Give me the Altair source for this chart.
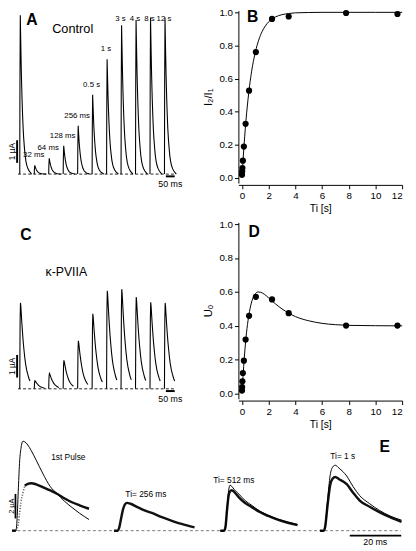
import altair as alt
import pandas as pd

FONT = "Liberation Sans"

# ---------------- data ----------------
# Panels A / C : interval before the 2nd pulse, peak currents (µA)
PULSE_LABELS = ["", "32 ms", "64 ms", "128 ms", "256 ms", "0.5 s", "1 s", "3 s", "4 s", "8 s", "12 s"]
A_PEAKS = [7.04, 0.39, 0.70, 1.26, 2.14, 3.52, 5.09, 6.60, 6.83, 6.94, 6.94]
C_PEAKS = [3.81, 0.36, 0.68, 1.26, 2.13, 3.33, 4.35, 4.42, 4.07, 3.84, 3.81]
# normalised waveform of one sweep (ms after onset)
A_T = [0, 1, 3, 5, 7, 9, 11, 13, 16, 19, 22, 26, 30, 35, 40, 46, 53, 60, 67]
A_SHAPE = [0, 0.55, 1.0, 0.87, 0.75, 0.64, 0.55, 0.47, 0.37, 0.29, 0.23, 0.17, 0.12,
           0.08, 0.055, 0.035, 0.02, 0.01, 0.0]
C_T = [0, 1, 2, 4, 6, 9, 12, 15, 19, 23, 28, 33, 39, 45, 52, 58]
C_SHAPE = [0, 0.45, 0.8, 1.0, 0.96, 0.86, 0.76, 0.67, 0.56, 0.47, 0.37, 0.29, 0.22,
           0.17, 0.12, 0.09]

# Panels B / D
TI = [0.0, 0.01, 0.03, 0.065, 0.14, 0.27, 0.53, 1.04, 2.25, 3.5, 7.8, 11.65]
I2_I1 = [0.02, 0.04, 0.06, 0.105, 0.19, 0.327, 0.527, 0.76, 0.96, 0.975, 0.996, 0.99]
U_O = [0.019, 0.039, 0.073, 0.122, 0.195, 0.319, 0.459, 0.571, 0.556, 0.475, 0.402, 0.402]
B_FIT_T = [0, 0.1, 0.2, 0.3, 0.4, 0.5, 0.65, 0.8, 1.0, 1.25, 1.5, 1.75, 2.0, 2.5, 3.0,
           3.5, 4.0, 5.0, 6.0, 8.0, 10.0, 12.0]
B_FIT_Y = [0.0, 0.133, 0.249, 0.349, 0.435, 0.51, 0.605, 0.681, 0.76, 0.832, 0.883,
           0.918, 0.943, 0.972, 0.986, 0.993, 0.997, 0.999, 1.0, 1.0, 1.0, 1.0]
D_FIT_T = [0, 0.1, 0.2, 0.3, 0.45, 0.6, 0.8, 1.0, 1.2, 1.4, 1.7, 2.0, 2.5, 3.0, 3.5,
           4.0, 5.0, 6.0, 7.0, 8.0, 10.0, 12.0]
D_FIT_Y = [0.0, 0.13, 0.24, 0.33, 0.43, 0.5, 0.56, 0.59, 0.60, 0.598, 0.585, 0.565,
           0.53, 0.5, 0.475, 0.455, 0.43, 0.415, 0.407, 0.403, 0.401, 0.40]

# Panel E : superimposed currents (ms after onset, µA)
E_LABELS = ["1st Pulse", "Ti= 256 ms", "Ti= 512 ms", "Ti= 1 s"]
E1_T = [-1.5, 0, 0.5, 1.0, 1.5, 2.0, 2.8, 3.5, 4.7, 6.0, 8.0, 10.5, 13.5, 16.3, 19.0,
        22.0, 25.0, 28.7]
E1_CTRL = [0, 0, 1.0, 3.5, 5.7, 6.7, 7.3, 7.25, 6.99, 6.55, 5.75, 4.7, 3.6, 2.99, 2.42,
           1.9, 1.42, 0.91]
E1_PVIIA = [0, 0, 0.2, 0.55, 1.5, 2.3, 3.1, 3.66, 3.82, 3.87, 3.78, 3.55, 3.28, 2.99,
            2.65, 2.32, 2.07, 1.79]
E2_T = [-1.5, 0, 0.5, 1.2, 2.0, 2.8, 3.6, 5.0, 7.7, 10.5, 14.1, 17.0, 20.5, 25.0, 30.1]
E2_PVIIA = [0, 0, 0.2, 0.9, 1.7, 2.15, 2.27, 2.2, 1.92, 1.65, 1.39, 1.12, 0.86, 0.55, 0.27]
E3_T = [-1.5, 0, 0.5, 1.2, 1.8, 2.3, 3.0, 4.0, 5.8, 8.0, 10.9, 14.0, 17.3, 21.0, 25.0, 28.8]
E3_CTRL = [0, 0, 0.3, 2.0, 3.3, 3.71, 3.62, 3.35, 2.99, 2.5, 2.06, 1.6, 1.26, 0.95, 0.7, 0.51]
E3_PVIIA = [0, 0, 0.25, 1.8, 2.9, 3.2, 3.3, 3.15, 2.72, 2.3, 1.92, 1.52, 1.2, 0.9, 0.65, 0.45]
E4_T = [-1.5, 0, 0.5, 1.5, 2.5, 3.5, 4.5, 6.0, 9.0, 11.5, 14.1, 18.0, 21.8, 26.0, 30.5]
E4_CTRL = [0, 0, 0.3, 2.5, 4.5, 5.2, 5.34, 5.1, 4.46, 3.6, 2.86, 2.2, 1.66, 1.2, 0.86]
E4_PVIIA = [0, 0, 0.25, 2.1, 3.7, 4.25, 4.38, 4.2, 3.79, 3.1, 2.46, 1.95, 1.52, 1.1, 0.72]

# ---------------- layout ----------------
W, H = 400, 535
OX, OY = 16, 16          # page position of the plot origin (8px margin + 8px padding)


def rx(v):
    return v - OX


def ry(v):
    return v - OY


SWEEP_MS = 82            # display spacing of the sweeps in A / C
E_OFFSETS = [0, 40, 81.7, 120.8]
LABEL_CAP = 6.45         # highest label anchor in A (µA) so the top labels stay on the page
ONE = pd.DataFrame({"k": [0]})


def S(domain, rng):
    return alt.Scale(domain=domain, range=rng, nice=False, zero=False)


def txt(s, x, y, size=9, weight="normal", align="center", baseline="middle", angle=None):
    kw = dict(text=s, fontSize=size, fontWeight=weight, align=align, baseline=baseline,
              font=FONT, color="black")
    if angle is not None:
        kw["angle"] = angle
    return alt.Chart(ONE).mark_text(**kw).encode(x=alt.value(rx(x)), y=alt.value(ry(y)))


layers = []

# ---------- panels A and C (sweeps) ----------
ax = S([0, 900], [rx(20), rx(20 + 900 * 0.18)])
ay = S([0, 7], [ry(172), ry(172 - 7 * 23)])
cy = S([0, 7], [ry(391), ry(391 - 7 * 23)])


def sweeps(peaks, T, SH):
    rows = []
    for i, pk in enumerate(peaks):
        for t, s in zip(T, SH):
            rows.append({"pulse": i, "t": i * SWEEP_MS + t, "amp": pk * s})
    return pd.DataFrame(rows)


def trace_panel(peaks, T, SH, ys):
    out = []
    out.append(alt.Chart(pd.DataFrame({"x": [-10], "x2": [878], "y": [0]}))
               .mark_rule(color="#222", strokeDash=[3, 2.2], strokeWidth=1)
               .encode(x=alt.X("x:Q", scale=ax, axis=None), x2="x2:Q",
                       y=alt.Y("y:Q", scale=ys, axis=None)))
    out.append(alt.Chart(sweeps(peaks, T, SH))
               .mark_line(color="black", strokeWidth=1.1)
               .encode(x=alt.X("t:Q", scale=ax, axis=None),
                       y=alt.Y("amp:Q", scale=ys, axis=None),
                       detail="pulse:N"))
    # 1 µA scale bar
    out.append(alt.Chart(pd.DataFrame({"x": [-15], "y": [0.5], "y2": [1.5]}))
               .mark_rule(color="black", strokeWidth=2)
               .encode(x=alt.X("x:Q", scale=ax, axis=None),
                       y=alt.Y("y:Q", scale=ys, axis=None), y2="y2:Q"))
    out.append(alt.Chart(pd.DataFrame({"x": [-42], "y": [1.0], "s": ["1 µA"]}))
               .mark_text(angle=270, fontSize=8.5, font=FONT, color="black")
               .encode(x=alt.X("x:Q", scale=ax, axis=None),
                       y=alt.Y("y:Q", scale=ys, axis=None), text="s:N"))
    # 50 ms scale bar
    out.append(alt.Chart(pd.DataFrame({"x": [828], "x2": [878], "y": [-0.1]}))
               .mark_rule(color="black", strokeWidth=2)
               .encode(x=alt.X("x:Q", scale=ax, axis=None), x2="x2:Q",
                       y=alt.Y("y:Q", scale=ys, axis=None)))
    out.append(alt.Chart(pd.DataFrame({"x": [853], "y": [-0.1], "s": ["50 ms"]}))
               .mark_text(fontSize=9, font=FONT, color="black", dy=8)
               .encode(x=alt.X("x:Q", scale=ax, axis=None),
                       y=alt.Y("y:Q", scale=ys, axis=None), text="s:N"))
    return out


layers += trace_panel(A_PEAKS, A_T, A_SHAPE, ay)
layers += trace_panel(C_PEAKS, C_T, C_SHAPE, cy)

lab = pd.DataFrame({
    "x": [i * SWEEP_MS - 3 for i in range(len(A_PEAKS))],
    "y": [min(p, LABEL_CAP) for p in A_PEAKS],
    "s": PULSE_LABELS,
}).iloc[1:]
layers.append(alt.Chart(lab).mark_text(fontSize=8, font=FONT, color="black",
                                       baseline="bottom", dy=-6)
              .encode(x=alt.X("x:Q", scale=ax, axis=None),
                      y=alt.Y("y:Q", scale=ay, axis=None), text="s:N"))

# ---------- panels B and D ----------
bx = S([-0.27, 12], [rx(243), rx(410)])
by = S([-0.03, 1.01], [ry(176 + 0.03 * 169), ry(176 - 1.01 * 169)])
dys = S([-0.03, 1.01], [ry(396 + 0.03 * 173), ry(396 - 1.01 * 173)])


def xy_panel(yvals, fit_t, fit_y, ys, axis_y_abs, ytitle):
    pts = pd.DataFrame({"ti": TI, "v": yvals})
    fit = pd.DataFrame({"ti": fit_t, "v": fit_y})
    out = [
        alt.Chart(fit).mark_line(color="black", strokeWidth=1, interpolate="monotone")
        .encode(x=alt.X("ti:Q", scale=bx, axis=None), y=alt.Y("v:Q", scale=ys, axis=None)),
        alt.Chart(pts).mark_circle(size=40, color="black", opacity=1)
        .encode(
            x=alt.X("ti:Q", scale=bx,
                    axis=alt.Axis(orient="bottom", offset=ry(axis_y_abs) - H,
                                  values=[0, 2, 4, 6, 8, 10, 12], format="d",
                                  title="Ti [s]", titlePadding=3)),
            y=alt.Y("v:Q", scale=ys,
                    axis=alt.Axis(orient="left", offset=-rx(243),
                                  values=[0, 0.2, 0.4, 0.6, 0.8, 1.0], format=".1f",
                                  title=ytitle, titlePadding=6, titleFontSize=11.5)),
        ),
    ]
    return out


layers += xy_panel(I2_I1, B_FIT_T, B_FIT_Y, by, 183, "I₂/I₁")
layers += xy_panel(U_O, D_FIT_T, D_FIT_Y, dys, 403, "Uₒ")

# ---------- panel E ----------
ex = S([0, 150], [rx(16), rx(16 + 150 * 2.6)])
ey = S([0, 8], [ry(535.7), ry(535.7 - 8 * 12.5)])

layers.append(alt.Chart(pd.DataFrame({"x": [-1.5], "x2": [151], "y": [0]}))
              .mark_rule(color="#777", strokeDash=[3, 2.5], strokeWidth=1)
              .encode(x=alt.X("x:Q", scale=ex, axis=None), x2="x2:Q",
                      y=alt.Y("y:Q", scale=ey, axis=None)))

thin_rows, thick_rows, rise_rows = [], [], []
for g, (T, A) in [(0, (E1_T, E1_CTRL)), (2, (E3_T, E3_CTRL)), (3, (E4_T, E4_CTRL))]:
    for t, a in zip(T, A):
        thin_rows.append({"id": g, "t": E_OFFSETS[g] + t, "a": a})
for g, (T, A) in [(0, (E1_T, E1_PVIIA)), (1, (E2_T, E2_PVIIA)),
                  (2, (E3_T, E3_PVIIA)), (3, (E4_T, E4_PVIIA))]:
    for t, a in zip(T, A):
        if g == 0 and 0 <= t <= 3.5:
            rise_rows.append({"id": g, "t": E_OFFSETS[g] + t, "a": a})
        if g == 0 and 0 < t < 3.5:
            continue
        thick_rows.append({"id": g * 10 + (1 if (g == 0 and t >= 3.5) else 0),
                           "t": E_OFFSETS[g] + t, "a": a})


def eline(rows, **kw):
    return (alt.Chart(pd.DataFrame(rows)).mark_line(interpolate="monotone", **kw)
            .encode(x=alt.X("t:Q", scale=ex, axis=None),
                    y=alt.Y("a:Q", scale=ey, axis=None), detail="id:N"))


layers.append(eline(thick_rows, color="#111", strokeWidth=2.5))
layers.append(eline(rise_rows, color="#666", strokeWidth=1.6, strokeDash=[1.2, 1.6]))
layers.append(eline(thin_rows, color="black", strokeWidth=1))

# E scale bars
layers.append(alt.Chart(pd.DataFrame({"x": [-0.15], "y": [1.0], "y2": [3.0]}))
              .mark_rule(color="black", strokeWidth=1.8)
              .encode(x=alt.X("x:Q", scale=ex, axis=None),
                      y=alt.Y("y:Q", scale=ey, axis=None), y2="y2:Q"))
layers.append(alt.Chart(pd.DataFrame({"x": [-1.55], "y": [2.0], "s": ["2 µA"]}))
              .mark_text(angle=270, fontSize=7.5, font=FONT, color="black")
              .encode(x=alt.X("x:Q", scale=ex, axis=None),
                      y=alt.Y("y:Q", scale=ey, axis=None), text="s:N"))
layers.append(alt.Chart(pd.DataFrame({"x": [131], "x2": [151.2], "y": [-0.4]}))
              .mark_rule(color="black", strokeWidth=1.8)
              .encode(x=alt.X("x:Q", scale=ex, axis=None), x2="x2:Q",
                      y=alt.Y("y:Q", scale=ey, axis=None)))
layers.append(alt.Chart(pd.DataFrame({"x": [141], "y": [-0.4], "s": ["20 ms"]}))
              .mark_text(fontSize=9, font=FONT, color="black", dy=7)
              .encode(x=alt.X("x:Q", scale=ex, axis=None),
                      y=alt.Y("y:Q", scale=ey, axis=None), text="s:N"))

# ---------- annotations ----------
layers += [
    txt("A", 32.5, 15, 16, "bold"),
    txt("Control", 74, 24, 13),
    txt("B", 257.5, 11.5, 16, "bold"),
    txt("C", 26.3, 234, 16, "bold"),
    txt("κ-PVIIA", 67.5, 272, 12.5),
    txt("D", 259, 231, 16, "bold"),
    txt("E", 392.3, 450, 16, "bold"),
    txt(E_LABELS[0], 69.5, 461, 8.5),
    txt(E_LABELS[1], 127.7, 498.3, 8.5, align="left"),
    txt(E_LABELS[2], 217.3, 484.3, 8.5, align="left"),
    txt(E_LABELS[3], 336.7, 460, 8.5, align="left"),
]

chart = (
    alt.layer(*layers)
    .resolve_scale(x="independent", y="independent")
    .properties(width=W, height=H,
                padding={"left": 8, "top": 8, "right": 0, "bottom": 0},
                autosize=alt.AutoSizeParams(type="none"))
    .configure_view(stroke=None)
    .configure_axis(labelFont=FONT, titleFont=FONT, labelFontSize=10, titleFontSize=10.5,
                    titleFontWeight="normal", labelColor="black", titleColor="black",
                    tickColor="black", domainColor="black", tickSize=4, tickWidth=1,
                    domainWidth=1, labelPadding=2, grid=False)
)

chart.save("out.html", embed_options={"renderer": "svg", "actions": False})
